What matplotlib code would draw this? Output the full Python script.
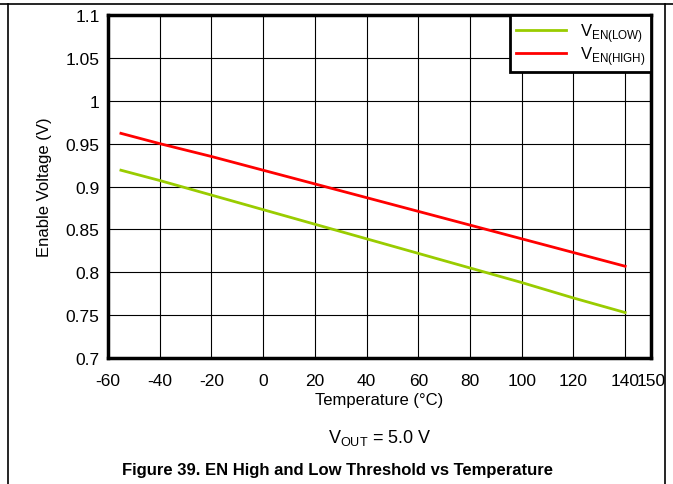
import matplotlib.pyplot as plt
from matplotlib.lines import Line2D

plt.rcParams['font.family'] = ['Liberation Sans', 'DejaVu Sans']

# data
temp = [-55, -40, -20, 0, 20, 40, 60, 80, 100, 120, 140]
v_en_low = [0.919, 0.907, 0.890, 0.873, 0.856, 0.839, 0.822, 0.805, 0.788, 0.770, 0.753]
v_en_high = [0.962, 0.950, 0.935, 0.919, 0.903, 0.887, 0.871, 0.855, 0.839, 0.823, 0.807]

x_ticks = [-60, -40, -20, 0, 20, 40, 60, 80, 100, 120, 140, 150]
y_ticks = [0.7, 0.75, 0.8, 0.85, 0.9, 0.95, 1.0, 1.05, 1.1]
y_labels = ['0.7', '0.75', '0.8', '0.85', '0.9', '0.95', '1', '1.05', '1.1']

fig = plt.figure(figsize=(6.73, 4.85), dpi=100)
ax = fig.add_axes([108 / 673, 1 - 359 / 485, 543 / 673, 343 / 485])

ax.plot(temp, v_en_low, color='#99cc00', lw=2, label='V$_{\\mathregular{EN(LOW)}}$')
ax.plot(temp, v_en_high, color='#ff0000', lw=2, label='V$_{\\mathregular{EN(HIGH)}}$')

ax.set_xlim(-60, 150)
ax.set_ylim(0.7, 1.1)
ax.set_xticks(x_ticks)
ax.set_xticklabels([str(t) for t in x_ticks])
ax.set_yticks(y_ticks)
ax.set_yticklabels(y_labels)
ax.tick_params(length=0, labelsize=12.5)
ax.tick_params(axis='x', pad=11)
ax.tick_params(axis='y', pad=6)
ax.grid(True, color='black', lw=0.8)
for s in ax.spines.values():
    s.set_linewidth(2.5)

ax.set_xlabel('Temperature (°C)', fontsize=12, labelpad=3)
ax.set_ylabel('Enable Voltage (V)', fontsize=12, labelpad=10)

leg = ax.legend(loc='upper right', fontsize=12, fancybox=False, framealpha=1,
                edgecolor='black', borderaxespad=0, handlelength=3.0,
                labelspacing=0.0, borderpad=0.35, handletextpad=0.8)
leg.get_frame().set_linewidth(2)

fig.text(380 / 673, 1 - 438 / 485, 'V$_{\\mathregular{OUT}}$ = 5.0 V', ha='center', va='center', fontsize=13)
fig.text(337 / 673, 1 - 471 / 485, 'Figure 39. EN High and Low Threshold vs Temperature',
         ha='center', va='center', fontsize=12, fontweight='bold')

# page frame lines
fig.add_artist(Line2D([0, 1], [1 - 5 / 485, 1 - 5 / 485], color='black', lw=1.2, transform=fig.transFigure))
fig.add_artist(Line2D([8 / 673, 8 / 673], [0, 1 - 5 / 485], color='black', lw=1.2, transform=fig.transFigure))
fig.add_artist(Line2D([665 / 673, 665 / 673], [0, 1 - 5 / 485], color='black', lw=1.2, transform=fig.transFigure))

fig.savefig('out.png', dpi=100)
